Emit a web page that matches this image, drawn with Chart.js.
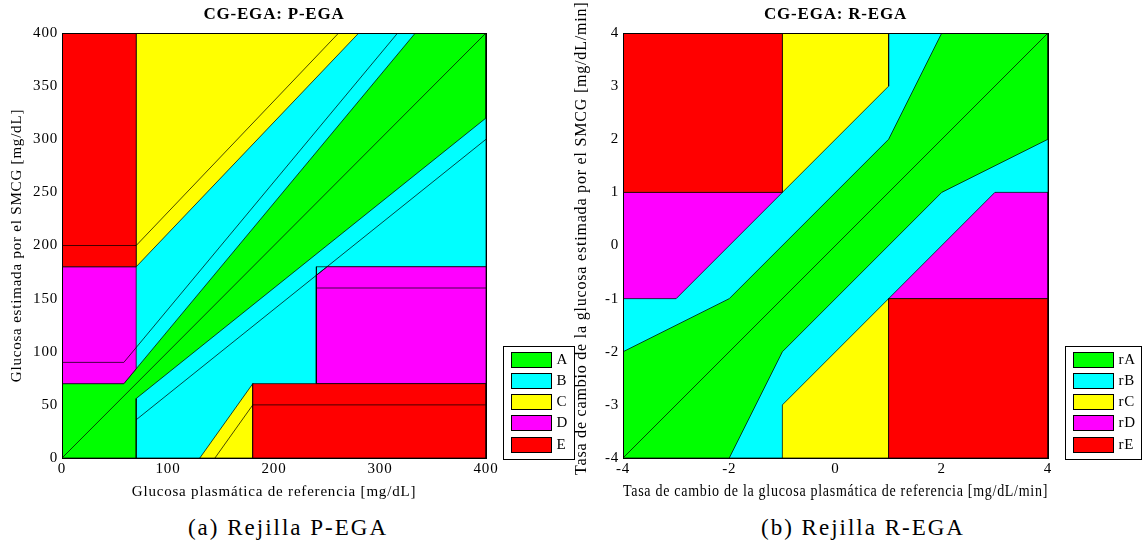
<!DOCTYPE html>
<html>
<head>
<meta charset="utf-8">
<script src="https://cdn.jsdelivr.net/npm/chart.js@4/dist/chart.umd.min.js"></script>
<style>
  body { margin: 0; background: #fff; width: 1144px; height: 548px; position: relative; overflow: hidden; }
  canvas { position: absolute; top: 0; }
  #pega { left: 0; }
  #rega { left: 568px; }
  .caption { position: absolute; top: 515px; width: 320px; text-align: center;
             font-family: "Liberation Serif", serif; font-size: 23px; letter-spacing: 2px; color: #000; }
</style>
</head>
<body>
<canvas id="pega" width="575" height="505"></canvas>
<canvas id="rega" width="576" height="505"></canvas>
<div class="caption" style="left:128px">(a) Rejilla P-EGA</div>
<div class="caption" style="left:703px">(b) Rejilla R-EGA</div>
<script>
// zone colours, shared by both grids
const zoneColors = ['#00ff00', '#00ffff', '#ffff00', '#ff00ff', '#ff0000'];
const pegaLabels = ['A', 'B', 'C', 'D', 'E'];
const regaLabels = ['rA', 'rB', 'rC', 'rD', 'rE'];

// P-EGA polygons, [reference, estimate] in mg/dL
const pegaB      = [[0, 0], [400, 0], [400, 400], [0, 400]];
const pegaA      = [[0, 0], [0, 70], [58.33, 70], [333.33, 400], [400, 400], [400, 320], [70, 56], [70, 0]];
const pegaCup    = [[70, 180], [70, 400], [280, 400]];
const pegaClow   = [[130, 0], [180, 70], [180, 0]];
const pegaDup    = [[0, 70], [58.33, 70], [70, 84], [70, 180], [0, 180]];
const pegaDbox   = [[240, 70], [400, 70], [400, 180], [240, 180]];
const pegaDlow   = [[240, 70], [400, 70], [400, 180], [250, 180], [240, 172]];
const pegaEup    = [[0, 180], [70, 180], [70, 400], [0, 400]];
const pegaElow   = [[180, 0], [180, 70], [400, 70], [400, 0]];
// rate-shifted limits (+/-20 mg/dL) and identity line
const pegaShift1 = [[0, 200], [70, 200], [261, 400]];
const pegaShift2 = [[0, 90], [58.33, 90], [316.67, 400]];
const pegaShift3 = [[70, 36], [400, 300]];
const pegaShift4 = [[144.29, 0], [180, 50], [400, 50]];
const pegaShift5 = [[240, 160], [400, 160]];
const pegaDiag   = [[0, 0], [400, 400]];

// R-EGA polygons, [reference, estimate] in mg/dL/min
const regaB    = [[-4, -4], [4, -4], [4, 4], [-4, 4]];
const regaA    = [[-4, -4], [-4, -2], [-2, -1], [1, 2], [2, 4], [4, 4], [4, 2], [2, 1], [-1, -2], [-2, -4]];
const regaCup  = [[-1, 1], [-1, 4], [1, 4], [1, 3]];
const regaClow = [[-1, -4], [-1, -3], [1, -1], [1, -4]];
const regaDup  = [[-4, -1], [-3, -1], [-1, 1], [-4, 1]];
const regaDlow = [[1, -1], [3, 1], [4, 1], [4, -1]];
const regaEup  = [[-4, 1], [-1, 1], [-1, 4], [-4, 4]];
const regaElow = [[1, -4], [1, -1], [4, -1], [4, -4]];
const regaDiag = [[-4, -4], [4, 4]];

const EDGE = 'rgba(0,0,0,0.72)';

Chart.defaults.font.family = '"Liberation Serif", "Times New Roman", serif';
Chart.defaults.color = '#000';

function polygon(points, color) {
  const pts = points.concat([points[0]]);
  return {
    data: pts.map(p => ({x: p[0], y: p[1]})),
    showLine: true, fill: 'shape', backgroundColor: color,
    borderColor: EDGE, borderWidth: 1, pointRadius: 0, tension: 0
  };
}

function path(points) {
  return {
    data: points.map(p => ({x: p[0], y: p[1]})),
    showLine: true, fill: false, borderColor: EDGE, borderWidth: 1,
    pointRadius: 0, tension: 0
  };
}

// wider glyph spacing for all canvas text
const spacing = {
  id: 'spacing',
  beforeDraw(chart) { chart.ctx.letterSpacing = '0.8px'; }
};

// black frame round the plot and boxed legend at bottom-right
const frameLegend = {
  id: 'frameLegend',
  afterDraw(chart, args, opts) {
    const ctx = chart.ctx;
    const a = chart.chartArea;
    ctx.save();
    ctx.strokeStyle = '#000';
    ctx.lineWidth = 1;
    ctx.strokeRect(Math.round(a.left) + 0.5, Math.round(a.top) + 0.5,
                   Math.round(a.right - a.left), Math.round(a.bottom - a.top));

    ctx.font = '15px "Liberation Serif", serif';
    ctx.textBaseline = 'middle';
    let tw = 0;
    opts.labels.forEach(l => { tw = Math.max(tw, ctx.measureText(l).width); });
    const x0 = Math.round(a.right) + 17.5;
    const h = 113;
    const y0 = Math.round(a.bottom) + 1.5 - h;
    const w = Math.round(8 + 40 + 5 + tw + 6);
    ctx.fillStyle = '#fff';
    ctx.fillRect(x0, y0, w, h);
    ctx.strokeRect(x0, y0, w, h);
    opts.labels.forEach((l, i) => {
      const ry = Math.round(y0 + 5 + i * 21.3) + 0.5;
      ctx.fillStyle = opts.colors[i];
      ctx.fillRect(x0 + 8, ry, 40, 15);
      ctx.strokeStyle = '#000';
      ctx.strokeRect(x0 + 8, ry, 40, 15);
      ctx.fillStyle = '#000';
      ctx.fillText(l, x0 + 53, ry + 8);
    });
    ctx.restore();
  }
};

function makeGrid(id, cfg) {
  // back-to-front list; Chart.js paints dataset 0 on top, so reverse it
  const datasets = cfg.layers.slice().reverse();
  return new Chart(document.getElementById(id), {
    type: 'scatter',
    data: { datasets: datasets },
    plugins: [spacing, frameLegend],
    options: {
      responsive: false,
      animation: false,
      events: [],
      layout: { padding: { left: 0, right: cfg.padRight, top: 0, bottom: 0 } },
      plugins: {
        legend: { display: false },
        tooltip: { enabled: false },
        title: {
          display: true, text: cfg.title, fullSize: false,
          font: { size: 17, weight: 'bold' }, color: '#000',
          padding: { top: 4, bottom: 8.6 }
        },
        frameLegend: { labels: cfg.labels, colors: zoneColors }
      },
      scales: {
        x: {
          type: 'linear', min: cfg.min, max: cfg.max,
          grid: { display: false, drawTicks: false },
          border: { display: false },
          ticks: { stepSize: cfg.xStep, padding: 2, font: { size: 15 }, color: '#000' },
          title: { display: true, text: cfg.xTitle, font: { size: cfg.titleSize }, color: '#000',
                   padding: { top: 0, bottom: 4 } },
          afterFit(scale) { scale.height = 47; }
        },
        y: {
          type: 'linear', min: cfg.min, max: cfg.max,
          grid: { display: false, drawTicks: false },
          border: { display: false },
          ticks: { stepSize: cfg.yStep, padding: 4, font: { size: 15 }, color: '#000' },
          title: { display: true, text: cfg.yTitle, font: { size: cfg.titleSize }, color: '#000',
                   padding: { top: cfg.yTitlePad, bottom: 0 } },
          afterFit(scale) { scale.width = cfg.yWidth; }
        }
      }
    }
  });
}

makeGrid('pega', {
  title: 'CG-EGA: P-EGA',
  xTitle: 'Glucosa plasmática de referencia [mg/dL]',
  yTitle: 'Glucosa estimada por el SMCG [mg/dL]',
  min: 0, max: 400, xStep: 100, yStep: 50, titleSize: 15,
  yWidth: 62, yTitlePad: 8, padRight: 89,
  labels: pegaLabels,
  layers: [
    polygon(pegaB, zoneColors[1]),
    polygon(pegaA, zoneColors[0]),
    polygon(pegaCup, zoneColors[2]),
    polygon(pegaClow, zoneColors[2]),
    polygon(pegaDup, zoneColors[3]),
    polygon(pegaDbox, zoneColors[1]),
    polygon(pegaDlow, zoneColors[3]),
    polygon(pegaEup, zoneColors[4]),
    polygon(pegaElow, zoneColors[4]),
    path(pegaShift1), path(pegaShift2), path(pegaShift3),
    path(pegaShift4), path(pegaShift5), path(pegaDiag)
  ]
});

makeGrid('rega', {
  title: 'CG-EGA: R-EGA',
  xTitle: 'Tasa de cambio de la glucosa plasmática de referencia [mg/dL/min]',
  yTitle: '   Tasa de cambio de la glucosa estimada por el SMCG [mg/dL/min]',
  min: -4, max: 4, xStep: 2, yStep: 1, titleSize: 16,
  yWidth: 55, yTitlePad: 4, padRight: 96,
  labels: regaLabels,
  layers: [
    polygon(regaB, zoneColors[1]),
    polygon(regaA, zoneColors[0]),
    polygon(regaCup, zoneColors[2]),
    polygon(regaClow, zoneColors[2]),
    polygon(regaDup, zoneColors[3]),
    polygon(regaDlow, zoneColors[3]),
    polygon(regaEup, zoneColors[4]),
    polygon(regaElow, zoneColors[4]),
    path(regaDiag)
  ]
});
</script>
</body>
</html>
